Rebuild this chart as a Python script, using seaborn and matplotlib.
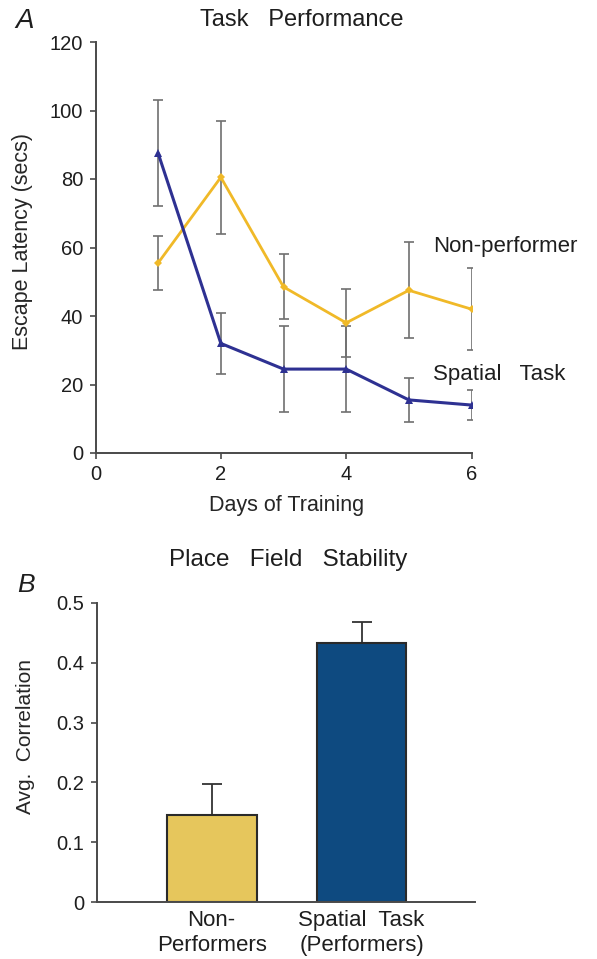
import matplotlib
matplotlib.use("Agg")
import matplotlib.pyplot as plt
import seaborn as sns
import numpy as np
import pandas as pd
from matplotlib.ticker import FuncFormatter

# ---- data ----
days = [1, 2, 3, 4, 5, 6]
nonperf_mean = [55.5, 80.5, 48.5, 38.0, 47.5, 42.0]
nonperf_err = [8.0, 16.5, 9.5, 10.0, 14.0, 12.0]
spatial_mean = [87.5, 32.0, 24.5, 24.5, 15.5, 14.0]
spatial_err = [15.5, 9.0, 12.5, 12.5, 6.5, 4.5]

bar_groups = ["Non-\nPerformers", "Spatial  Task\n(Performers)"]
bar_values = [0.145, 0.433]
bar_err = [0.053, 0.035]

YELLOW_LINE = "#F0B928"
BLUE_LINE = "#2E3192"
YELLOW_BAR = "#E6C65C"
BLUE_BAR = "#0E4A80"
ERR_COL = "#6f6f6f"
SPINE = "#4a4a4a"
TXT = "#1e1e1e"

sns.set_theme(style="ticks")
plt.rcParams["font.family"] = ["Liberation Sans", "DejaVu Sans"]
plt.rcParams["text.color"] = TXT

fig = plt.figure(figsize=(5.97, 9.59), dpi=100)
W, H = 597.0, 959.0

# ---------------- Panel A ----------------
axA = fig.add_axes([95.5 / W, 1 - 453 / H, 376 / W, 411 / H])
df = pd.DataFrame({
    "day": days * 2,
    "latency": nonperf_mean + spatial_mean,
    "group": ["Non-performer"] * 6 + ["Spatial Task"] * 6,
})
axA.errorbar(days, nonperf_mean, yerr=nonperf_err, fmt="none", ecolor=ERR_COL,
             elinewidth=1.2, capsize=3.5, capthick=1.2, zorder=1)
axA.errorbar(days, spatial_mean, yerr=spatial_err, fmt="none", ecolor=ERR_COL,
             elinewidth=1.2, capsize=3.5, capthick=1.2, zorder=1)
sns.lineplot(data=df[df.group == "Non-performer"], x="day", y="latency", ax=axA,
             color=YELLOW_LINE, linewidth=2.0, marker="D", markersize=4.5,
             markeredgewidth=0, legend=False, zorder=3)
sns.lineplot(data=df[df.group == "Spatial Task"], x="day", y="latency", ax=axA,
             color=BLUE_LINE, linewidth=2.2, marker="^", markersize=6,
             markeredgewidth=0, legend=False, zorder=3)
axA.set_xlim(0, 6)
axA.set_ylim(0, 120)
axA.set_xticks([0, 2, 4, 6])
axA.set_yticks([0, 20, 40, 60, 80, 100, 120])
axA.set_xlabel("Days of Training", fontsize=15.5)
axA.xaxis.set_label_coords((287 - 95.5) / 376, (453 - 505) / 411)
axA.xaxis.label.set_va("center")
axA.set_ylabel("Escape Latency (secs)", fontsize=15.5)
axA.yaxis.set_label_coords((23 - 95.5) / 376, (453 - 241.5) / 411)
axA.yaxis.label.set_va("center")
fig.text(302 / W, 1 - 20 / H, "Task   Performance", fontsize=17, ha="center", va="center")
axA.text(5.38, 58.7, "Non-performer", fontsize=16, va="baseline", ha="left")
axA.text(5.38, 21.3, "Spatial   Task", fontsize=16, va="baseline", ha="left")
fig.text(25 / W, 1 - 21 / H, "A", fontsize=20, style="italic", va="center", ha="center")

# ---------------- Panel B ----------------
axB = fig.add_axes([96.5 / W, 1 - 902 / H, 378.5 / W, 299 / H])
dfb = pd.DataFrame({"group": bar_groups, "value": bar_values})
sns.barplot(data=dfb, x="group", y="value", hue="group", ax=axB,
            palette=[YELLOW_BAR, BLUE_BAR], saturation=1, width=0.6,
            edgecolor="#2a2a2a", linewidth=1.5, legend=False, errorbar=None)
axB.errorbar([0, 1], bar_values, yerr=[[0, 0], bar_err], fmt="none",
             ecolor="#333333", elinewidth=1.3, capsize=7, capthick=1.3, zorder=0)
axB.set_xlim(-0.768, 1.757)
axB.set_ylim(0, 0.5)
axB.set_yticks([0, 0.1, 0.2, 0.3, 0.4, 0.5])
axB.yaxis.set_major_formatter(FuncFormatter(lambda v, p: "0" if v == 0 else f"{v:.1f}"))
axB.set_xlabel("")
axB.set_ylabel("Avg.  Correlation", fontsize=15)
axB.yaxis.set_label_coords((25 - 96.5) / 378.5, (902 - 737) / 299)
axB.yaxis.label.set_va("center")
fig.text(288 / W, 1 - 560 / H, "Place   Field   Stability", fontsize=17.5, ha="center", va="center")
fig.text(26 / W, 1 - 585 / H, "B", fontsize=19, style="italic", va="center", ha="center")

for ax in (axA, axB):
    sns.despine(ax=ax)
    for s in ("left", "bottom"):
        ax.spines[s].set_color(SPINE)
        ax.spines[s].set_linewidth(1.4)
    ax.tick_params(axis="both", labelsize=14.5, colors=SPINE, labelcolor=TXT,
                   width=1.2)
    ax.tick_params(axis="y", length=4.5, pad=4.5)
axA.tick_params(axis="x", length=4, pad=5)
axB.tick_params(axis="x", length=0, pad=6, labelsize=16)

fig.savefig("out.png", dpi=100)
